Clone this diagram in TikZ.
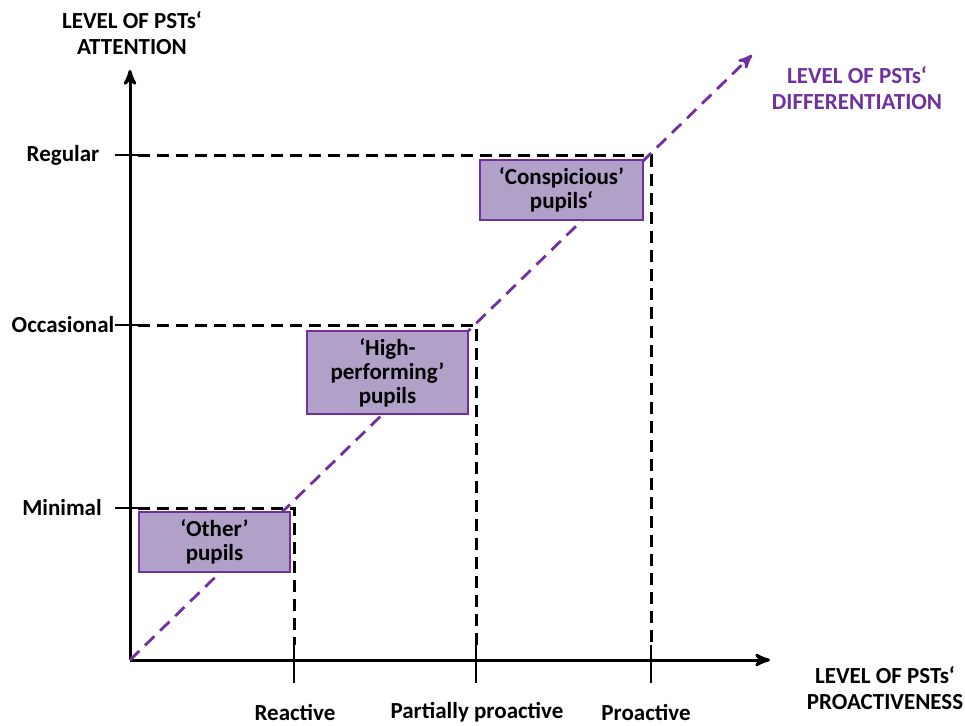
\documentclass[tikz,border=0pt]{standalone}
\usepackage{fontspec}
\setmainfont{Carlito}
\usetikzlibrary{arrows}
\definecolor{diffpurple}{HTML}{7030A0}
\definecolor{boxfill}{HTML}{B1A0C7}

\begin{document}
\begin{tikzpicture}[
    x=0.5pt, y=0.5pt,
    axis/.style={line width=1.5pt, ->, >=stealth'},
    axis tick/.style={line width=1.4pt},
    level line/.style={line width=1.5pt, dash pattern=on 6pt off 3.5pt},
    diff line/.style={diffpurple, line width=1.4pt, dash pattern=on 6.5pt off 4pt, ->, >=stealth'},
    pupil box/.style={draw=diffpurple, fill=boxfill, line width=1.2pt, align=center, inner sep=0pt,
        font=\bfseries\fontsize{11.5}{12}\selectfont},
    every node/.style={font=\bfseries\fontsize{11.5}{13}\selectfont, align=center}
    ]
    \useasboundingbox (0,0) rectangle (965,725);
    % axis
    \coordinate (O) at (130,65);
    \coordinate (ytop) at (130,655);
    \coordinate (xend) at (770,65);
    \draw[axis] (O) -- (ytop);
    \draw[axis] (O) -- (xend);
    \node (ytitle) at (132,692) {LEVEL OF PSTs‘\\ATTENTION};
    \node (xtitle) at (885,37) {LEVEL OF PSTs‘\\PROACTIVENESS};
    % Values
    \node (regular) at (63,570) {Regular};
    \node (occasional) at (63,400) {Occasional};
    \node (minimal) at (62,217) {Minimal};
    \node (reactive) at (295,13) {Reactive};
    \node (partial) at (477,13) {Partially proactive};
    \node (proactive) at (646,13) {Proactive};
    % Ticks
    \draw[axis tick] (115,570) -- (138,570);
    \draw[axis tick] (115,400) -- (138,400);
    \draw[axis tick] (115,217) -- (138,217);
    \draw[axis tick] (294,80) -- (294,42);
    \draw[axis tick] (476,80) -- (476,42);
    \draw[axis tick] (651,80) -- (651,42);
    % Lines
    \coordinate (regy) at (138,570);
    \coordinate (reg) at (651,570);
    \coordinate (regx) at (651,80);
    \coordinate (occy) at (138,400);
    \coordinate (occ) at (476,400);
    \coordinate (occx) at (476,80);
    \coordinate (miny) at (138,217);
    \coordinate (min) at (294,217);
    \coordinate (minx) at (294,80);
    \draw[level line] (regy) -- (reg) -- (regx);
    \draw[level line] (occy) -- (occ) -- (occx);
    \draw[level line] (miny) -- (min) -- (minx);
    % Differentiation
    \coordinate (dend) at (752,670);
    \draw[diff line] (O) -- (dend);
    \node[text=diffpurple] (dtitle) at (857,637) {LEVEL OF PSTs‘\\DIFFERENTIATION};
    % Boxes
    \node[pupil box, minimum width=81.5pt, minimum height=30pt] (consp) at (561.5,535)
        {‘Conspicious’\\pupils‘};
    \node[pupil box, minimum width=80.5pt, minimum height=41.5pt] (high) at (387.5,352.5)
        {‘High-\\performing’\\pupils};
    \node[pupil box, minimum width=75.5pt, minimum height=30pt] (other) at (214.5,183)
        {‘Other’\\pupils};
\end{tikzpicture}
\end{document}
